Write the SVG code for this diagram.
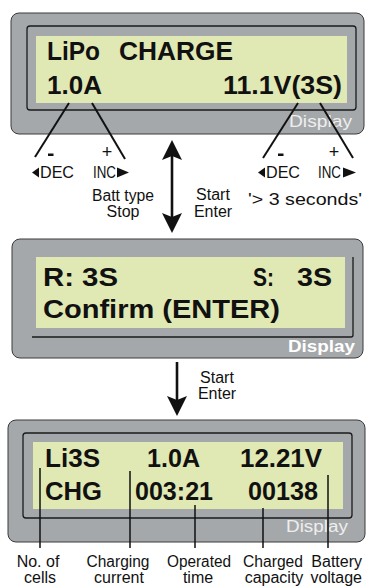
<svg xmlns="http://www.w3.org/2000/svg" width="366" height="588" viewBox="0 0 366 588">
<style>
.outer{fill:#a5a8aa;stroke:#3a3a3a;stroke-width:1}
.inner{fill:none;stroke:#1a1a1a;stroke-width:1.3}
.lcd{fill:#e0e8b3}
.lt{font-family:"Liberation Sans",Arial,sans-serif;font-weight:bold;font-size:25px;fill:#111}
.disp{font-family:"Liberation Sans",Arial,sans-serif;font-size:16px;fill:#eeeeee}
.dispb{font-family:"Liberation Sans",Arial,sans-serif;font-size:16px;font-weight:bold;fill:#ffffff}
.lbl{font-family:"Liberation Sans",Arial,sans-serif;font-size:16px;fill:#111}
.sm{font-family:"Liberation Sans",Arial,sans-serif;font-size:16px;fill:#111}
.pm{font-family:"Liberation Sans",Arial,sans-serif;font-size:18px;fill:#111}
.ptr{stroke:#111;stroke-width:2;fill:none}
.vl{stroke:#111;stroke-width:1.5;fill:none}
.shaft{stroke:#111;stroke-width:2.6;fill:none}
.head{fill:#111}
</style>
<g id="display1">
<rect class="outer" x="11" y="13" width="353" height="121" rx="8"/>
<rect class="inner" x="27" y="26" width="329" height="84" rx="3"/>
<rect class="lcd" x="36" y="36" width="311" height="67"/>
<text class="lt" x="47" y="60" textLength="53" lengthAdjust="spacingAndGlyphs">LiPo</text>
<text class="lt" x="119" y="60" textLength="114" lengthAdjust="spacingAndGlyphs">CHARGE</text>
<text class="lt" x="47" y="94" textLength="55" lengthAdjust="spacingAndGlyphs">1.0A</text>
<text class="lt" x="223" y="94" textLength="119" lengthAdjust="spacingAndGlyphs">11.1V(3S)</text>
<text class="disp" x="289" y="127" textLength="63" lengthAdjust="spacingAndGlyphs">Display</text>
</g>
<g id="display2">
<rect class="outer" x="12" y="239" width="351" height="119" rx="8"/>
<path class="inner" d="M32,337 H351 Q353,337 353,335 V257"/>
<rect class="lcd" x="36" y="257" width="309" height="71"/>
<text class="lt" x="43" y="286" textLength="75" lengthAdjust="spacingAndGlyphs">R: 3S</text>
<text class="lt" x="253" y="286" textLength="21" lengthAdjust="spacingAndGlyphs">S:</text>
<text class="lt" x="297" y="286" textLength="35" lengthAdjust="spacingAndGlyphs">3S</text>
<text class="lt" x="43" y="318" textLength="237" lengthAdjust="spacingAndGlyphs">Confirm (ENTER)</text>
<text class="dispb" x="288" y="352" textLength="67" lengthAdjust="spacingAndGlyphs">Display</text>
</g>
<g id="display3">
<rect class="outer" x="8" y="420" width="357" height="122" rx="8"/>
<rect class="inner" x="23" y="433" width="329" height="85" rx="3"/>
<rect class="lcd" x="33" y="442" width="310" height="67"/>
<text class="lt" x="45" y="467" textLength="55" lengthAdjust="spacingAndGlyphs">Li3S</text>
<text class="lt" x="147" y="467" textLength="53" lengthAdjust="spacingAndGlyphs">1.0A</text>
<text class="lt" x="240" y="467" textLength="82" lengthAdjust="spacingAndGlyphs">12.21V</text>
<text class="lt" x="45" y="500" textLength="57" lengthAdjust="spacingAndGlyphs">CHG</text>
<text class="lt" x="135" y="500" textLength="78" lengthAdjust="spacingAndGlyphs">003:21</text>
<text class="lt" x="248" y="500" textLength="70" lengthAdjust="spacingAndGlyphs">00138</text>
<text class="disp" x="286" y="532" textLength="62" lengthAdjust="spacingAndGlyphs">Display</text>
</g>
<g id="connectors">
<line class="ptr" x1="69" y1="103" x2="35" y2="157"/>
<line class="ptr" x1="92" y1="103" x2="125" y2="159"/>
<line class="ptr" x1="298" y1="103" x2="263" y2="158"/>
<line class="ptr" x1="320" y1="103" x2="353" y2="158"/>
<line class="shaft" x1="172" y1="155" x2="172" y2="218"/>
<polygon class="head" points="172,140 182,160 172,156 162,160"/>
<polygon class="head" points="172,233 182,213 172,217 162,213"/>
<line class="shaft" x1="177" y1="362" x2="177" y2="402"/>
<polygon class="head" points="177,416 187,396 177,400 167,396"/>
<line class="vl" x1="40" y1="468" x2="40" y2="548"/>
<line class="vl" x1="130" y1="471" x2="130" y2="548"/>
<line class="vl" x1="195" y1="505" x2="195" y2="548"/>
<line class="vl" x1="263" y1="508" x2="263" y2="548"/>
<line class="vl" x1="328" y1="475" x2="328" y2="548"/>
</g>
<g id="labels">
<rect class="head" x="48" y="153.5" width="5.5" height="2.5"/>
<text class="pm" x="107" y="158" text-anchor="middle">+</text>
<polygon class="head" points="32,172.5 39,167.5 39,177.5"/>
<text class="sm" x="40" y="178" textLength="34" lengthAdjust="spacingAndGlyphs">DEC</text>
<text class="sm" x="93" y="178" textLength="23" lengthAdjust="spacingAndGlyphs">INC</text>
<polygon class="head" points="129,172.5 117,167.5 117,177.5"/>
<rect class="head" x="278" y="153.5" width="5.5" height="2.5"/>
<text class="pm" x="334" y="158" text-anchor="middle">+</text>
<polygon class="head" points="258,172.5 265,167.5 265,177.5"/>
<text class="sm" x="266" y="178" textLength="34" lengthAdjust="spacingAndGlyphs">DEC</text>
<text class="sm" x="318" y="178" textLength="23" lengthAdjust="spacingAndGlyphs">INC</text>
<polygon class="head" points="356,172.5 343,167.5 343,177.5"/>
<text class="lbl" x="123" y="201" text-anchor="middle" textLength="62" lengthAdjust="spacingAndGlyphs">Batt type</text>
<text class="lbl" x="123" y="217" text-anchor="middle">Stop</text>
<text class="lbl" x="213" y="200" text-anchor="middle">Start</text>
<text class="lbl" x="213" y="217" text-anchor="middle">Enter</text>
<text class="lbl" x="248" y="205" textLength="114" lengthAdjust="spacingAndGlyphs">'&gt; 3 seconds'</text>
<text class="lbl" x="217" y="383" text-anchor="middle" font-size="13px">Start</text>
<text class="lbl" x="217" y="399" text-anchor="middle" font-size="13px">Enter</text>
<text class="lbl" x="38" y="567" text-anchor="middle">No. of</text>
<text class="lbl" x="40" y="583" text-anchor="middle">cells</text>
<text class="lbl" x="118" y="567" text-anchor="middle" textLength="63" lengthAdjust="spacingAndGlyphs">Charging</text>
<text class="lbl" x="119" y="583" text-anchor="middle">current</text>
<text class="lbl" x="199" y="567" text-anchor="middle" textLength="64" lengthAdjust="spacingAndGlyphs">Operated</text>
<text class="lbl" x="198" y="583" text-anchor="middle">time</text>
<text class="lbl" x="273" y="567" text-anchor="middle" textLength="60" lengthAdjust="spacingAndGlyphs">Charged</text>
<text class="lbl" x="274" y="583" text-anchor="middle">capacity</text>
<text class="lbl" x="362" y="567" font-size="14px" text-anchor="end">Battery</text>
<text class="lbl" x="362" y="583" font-size="14px" text-anchor="end">voltage</text>
</g>
</svg>
